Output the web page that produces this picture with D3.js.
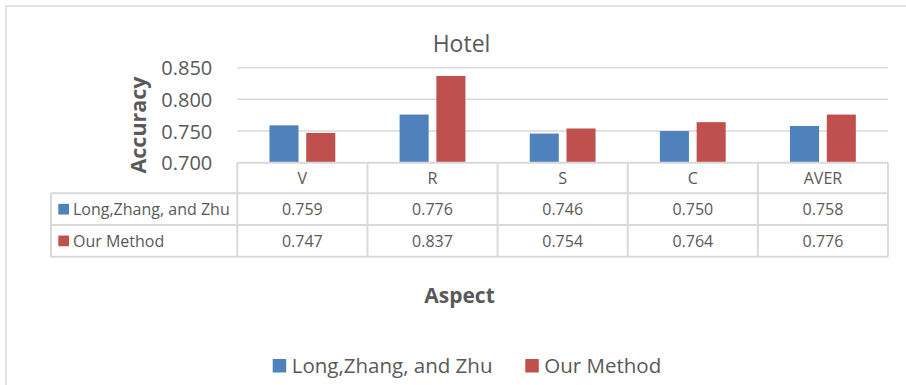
<!DOCTYPE html>
<html>
<head>
<meta charset="utf-8">
<script src="https://cdn.jsdelivr.net/npm/d3@7"></script>
<style>
  html, body { margin: 0; padding: 0; background: #fff; }
  svg { display: block; font-family: "Open Sans", sans-serif; }
</style>
</head>
<body>
<svg id="chart" width="906" height="385"></svg>
<script>
const categories = ["V", "R", "S", "C", "AVER"];
const seriesNames = ["Long,Zhang, and Zhu", "Our Method"];
const longZhangZhu = [0.759, 0.776, 0.746, 0.750, 0.758];
const ourMethod = [0.747, 0.837, 0.754, 0.764, 0.776];
const yTicks = [0.700, 0.750, 0.800, 0.850];
const colors = ["#4F81BD", "#C0504D"];

const seriesValues = [longZhangZhu, ourMethod];
const svg = d3.select("#chart");
const textColor = "#595959";
const lineColor = "#D9D9D9";

// outer frame
svg.append("rect").attr("x", 6).attr("y", 6).attr("width", 920).attr("height", 420)
  .attr("fill", "none").attr("stroke", lineColor).attr("stroke-width", 1.5);

const plotLeft = 237.3, plotRight = 888, plotTop = 67.7, plotBottom = 162.7;
const x = d3.scaleBand().domain(categories).range([plotLeft, plotRight]);
const xs = d3.scaleBand().domain(seriesNames).range([0, x.bandwidth()])
  .paddingInner(0.21).paddingOuter(0.875);
const y = d3.scaleLinear().domain([0.7, 0.85]).range([plotBottom, plotTop]);

// gridlines
svg.append("g").selectAll("line").data(yTicks.slice(1)).join("line")
  .attr("x1", plotLeft).attr("x2", plotRight)
  .attr("y1", d => y(d)).attr("y2", d => y(d))
  .attr("stroke", lineColor).attr("stroke-width", 1.5);

// y axis
const yAxis = svg.append("g").attr("transform", `translate(${plotLeft},0)`)
  .call(d3.axisLeft(y).tickValues(yTicks).tickFormat(d3.format(".3f")).tickSize(0).tickPadding(25));
yAxis.select(".domain").remove();
yAxis.selectAll("text").attr("font-size", 20).attr("fill", textColor)
  .attr("font-family", "'Open Sans', sans-serif").attr("dy", "0.36em");

// bars
const groups = svg.append("g").selectAll("g").data(categories).join("g")
  .attr("transform", d => `translate(${x(d)},0)`);
groups.selectAll("rect").data((c, i) => seriesNames.map((s, j) => ({ s, j, v: seriesValues[j][i] })))
  .join("rect")
  .attr("x", d => xs(d.s)).attr("width", xs.bandwidth())
  .attr("y", d => y(d.v)).attr("height", d => y(0.7) - y(d.v))
  .attr("fill", d => colors[d.j]);

// data table
const tableLeft = 51;
const rowEdges = [plotBottom, 193.3, 225, 256.7];
const table = svg.append("g");
table.append("line").attr("x1", plotLeft).attr("x2", plotRight)
  .attr("y1", rowEdges[0]).attr("y2", rowEdges[0]);
rowEdges.slice(1).forEach(ry => {
  table.append("line").attr("x1", tableLeft).attr("x2", plotRight).attr("y1", ry).attr("y2", ry);
});
const colEdges = categories.map(c => x(c)).concat([plotRight]);
colEdges.forEach(cx => {
  table.append("line").attr("x1", cx).attr("x2", cx).attr("y1", rowEdges[0]).attr("y2", rowEdges[3]);
});
table.append("line").attr("x1", tableLeft).attr("x2", tableLeft).attr("y1", rowEdges[1]).attr("y2", rowEdges[3]);
table.selectAll("line").attr("stroke", lineColor).attr("stroke-width", 2);

// header labels
table.selectAll("text.cat").data(categories).join("text").attr("class", "cat")
  .attr("x", d => x(d) + x.bandwidth() / 2).attr("y", (rowEdges[0] + rowEdges[1]) / 2)
  .attr("dy", "0.36em").attr("text-anchor", "middle")
  .attr("font-size", 16).attr("fill", textColor).text(d => d);

// rows
seriesNames.forEach((s, j) => {
  const cy = (rowEdges[j + 1] + rowEdges[j + 2]) / 2;
  table.append("rect").attr("x", 58.3).attr("y", cy - 5.3).attr("width", 10.7).attr("height", 10.7)
    .attr("fill", colors[j]);
  table.append("text").attr("x", 73).attr("y", cy).attr("dy", "0.36em")
    .attr("font-size", 16).attr("fill", textColor).text(s);
  table.selectAll("text.v" + j).data(seriesValues[j]).join("text").attr("class", "v" + j)
    .attr("x", (d, i) => x(categories[i]) + x.bandwidth() / 2).attr("y", cy).attr("dy", "0.36em")
    .attr("text-anchor", "middle").attr("font-size", 16).attr("fill", textColor)
    .text(d => d3.format(".3f")(d));
});

// title
svg.append("text").attr("x", 461.5).attr("y", 52).attr("text-anchor", "middle")
  .attr("font-size", 23).attr("fill", textColor).text("Hotel");

// axis titles
svg.append("text").attr("transform", "translate(145.5,125) rotate(-90)")
  .attr("text-anchor", "middle").attr("font-size", 21.5).attr("font-weight", "bold")
  .attr("fill", textColor).text("Accuracy");
svg.append("text").attr("x", 459.5).attr("y", 303.3).attr("text-anchor", "middle")
  .attr("font-size", 21).attr("font-weight", "bold").attr("fill", textColor).text("Aspect");

// legend
const legendItems = [{ x: 272.7 }, { x: 525.3 }];
const legend = svg.append("g");
seriesNames.forEach((s, j) => {
  legend.append("rect").attr("x", legendItems[j].x).attr("y", 359).attr("width", 13.5).attr("height", 13.5)
    .attr("fill", colors[j]);
  legend.append("text").attr("x", legendItems[j].x + 19).attr("y", 372.7)
    .attr("font-size", 20.5).attr("fill", textColor).text(s);
});
</script>
</body>
</html>
